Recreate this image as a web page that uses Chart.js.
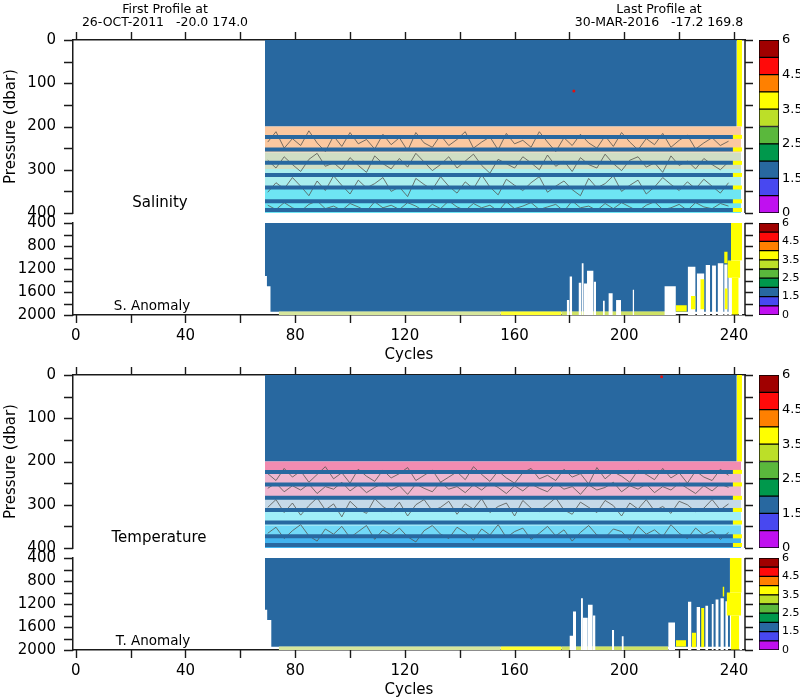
<!DOCTYPE html>
<html>
<head>
<meta charset="utf-8">
<script src="https://cdn.jsdelivr.net/npm/chart.js@4.4.1/dist/chart.umd.min.js"></script>
<style>
  body { margin: 0; background: #fff; width: 800px; height: 700px; position: relative; overflow: hidden; font-family: "DejaVu Sans", sans-serif; }
  canvas { position: absolute; }
  .txt { position: absolute; white-space: pre; color: #000; transform: translate(-50%, -50%); }
</style>
</head>
<body>
<canvas id="sal" width="756" height="230" style="left:0;top:0"></canvas>
<canvas id="salAnom" width="756" height="152" style="left:0;top:213px"></canvas>
<canvas id="temp" width="756" height="230" style="left:0;top:335px"></canvas>
<canvas id="tempAnom" width="756" height="152" style="left:0;top:548px"></canvas>
<canvas id="cb1" width="45" height="189" style="left:755px;top:32px"></canvas>
<canvas id="cb2" width="45" height="108" style="left:755px;top:215px"></canvas>
<canvas id="cb3" width="45" height="189" style="left:755px;top:367px"></canvas>
<canvas id="cb4" width="45" height="108" style="left:755px;top:550px"></canvas>

<div class="txt" style="left:165px;top:8px;font-size:12.5px">First Profile at</div>
<div class="txt" style="left:165px;top:21px;font-size:12.5px">26-OCT-2011   -20.0 174.0</div>
<div class="txt" style="left:659px;top:8px;font-size:12.5px">Last Profile at</div>
<div class="txt" style="left:659px;top:21px;font-size:12.5px">30-MAR-2016   -17.2 169.8</div>
<div class="txt" style="left:160px;top:202px;font-size:15px">Salinity</div>
<div class="txt" style="left:152px;top:305px;font-size:13.5px">S. Anomaly</div>
<div class="txt" style="left:159px;top:537px;font-size:15px">Temperature</div>
<div class="txt" style="left:153px;top:640px;font-size:13.5px">T. Anomaly</div>

<script>
Chart.defaults.font.family = '"DejaVu Sans", sans-serif';
Chart.defaults.color = '#000';

// axes
const xMin = -1, xMax = 244;
const cycleTickMarks = [0, 20, 40, 60, 80, 100, 120, 140, 160, 180, 200, 220, 240];
const cycleLabels = [0, 40, 80, 120, 160, 200, 240];
const upperTicks = [0, 50, 100, 150, 200, 250, 300, 350, 400];
const upperLabels = [0, 100, 200, 300, 400];
const lowerTicks = [400, 600, 800, 1000, 1200, 1400, 1600, 1800, 2000];
const lowerLabels = [400, 800, 1200, 1600, 2000];
const colorbarTickPos = [0, 2, 4, 6, 8, 10];
const colorbarLabels = ['0', '1.5', '2.5', '3.5', '4.5', '6'];

// profile coverage
const firstCycle = 69;
const blueEndCycle = 241;
const lastCycle = 242.9;
const bandEndCycle = 242.6;
const upperDepth = 200;
const sampleLevels = [224, 253, 284, 312, 341, 373, 393];

// salinity / temperature bands (dbar)
const salBandTops = [200, 260, 298, 340];
const salBandBottoms = [260, 298, 340, 400];
const tempBandTops = [200, 226, 282, 312, 348, 374];
const tempBandBottoms = [226, 282, 312, 348, 374, 400];

// contour lines
const contourCycles = [70, 73, 76, 79, 82, 85, 88, 91, 94, 97, 100, 103, 106, 109, 112, 115, 118, 121, 124, 127, 130, 133, 136, 139, 142, 145, 148, 151, 154, 157, 160, 163, 166, 169, 172, 175, 178, 181, 184, 187, 190, 193, 196, 199, 202, 205, 208, 211, 214, 217, 220, 223, 226, 229, 232, 235, 238];
const salContourA = [236, 212, 250, 228, 244, 210, 238, 258, 222, 246, 214, 240, 230, 252, 218, 242, 226, 256, 214, 238, 248, 220, 244, 230, 212, 250, 236, 224, 254, 216, 240, 232, 248, 212, 236, 258, 226, 244, 218, 238, 250, 222, 246, 214, 236, 254, 228, 242, 216, 248, 232, 220, 252, 238, 226, 244, 234];
const salContourB = [278, 296, 270, 288, 304, 276, 262, 292, 284, 300, 272, 290, 306, 268, 286, 298, 274, 294, 262, 282, 302, 288, 270, 296, 280, 264, 290, 308, 276, 286, 296, 270, 284, 300, 266, 292, 280, 304, 272, 288, 296, 264, 286, 302, 278, 270, 294, 284, 306, 268, 290, 280, 298, 274, 288, 300, 282];
const salContourC = [352, 330, 344, 318, 338, 360, 326, 348, 314, 336, 356, 324, 342, 332, 318, 350, 340, 362, 320, 334, 346, 316, 338, 354, 328, 344, 312, 340, 358, 322, 336, 348, 330, 316, 352, 338, 326, 346, 360, 320, 342, 332, 314, 350, 336, 324, 356, 340, 318, 334, 348, 328, 344, 322, 338, 354, 330];
const salContourD = [382, 392, 376, 388, 396, 380, 372, 390, 384, 394, 378, 386, 396, 374, 388, 382, 392, 376, 384, 396, 380, 390, 372, 386, 394, 378, 388, 382, 396, 374, 390, 384, 376, 392, 386, 380, 396, 372, 388, 384, 394, 378, 390, 376, 386, 396, 382, 374, 392, 388, 380, 394, 376, 386, 390, 378, 384];
const tempContourA = [228, 244, 216, 236, 222, 248, 230, 212, 240, 226, 250, 218, 234, 246, 220, 238, 228, 214, 244, 232, 220, 248, 236, 224, 242, 212, 230, 246, 222, 238, 250, 226, 216, 240, 232, 244, 218, 236, 228, 252, 214, 240, 224, 234, 248, 220, 230, 242, 216, 238, 226, 250, 222, 236, 244, 218, 232];
const tempContourB = [306, 288, 318, 296, 324, 302, 284, 312, 298, 328, 292, 310, 320, 286, 304, 316, 294, 326, 300, 288, 314, 306, 292, 322, 298, 310, 286, 318, 304, 296, 326, 290, 308, 316, 300, 284, 312, 322, 294, 306, 318, 290, 302, 326, 296, 310, 288, 314, 304, 320, 292, 300, 316, 308, 288, 312, 298];
const tempContourC = [366, 352, 378, 360, 346, 372, 384, 356, 368, 350, 376, 362, 348, 380, 358, 370, 354, 374, 386, 360, 348, 368, 378, 352, 364, 382, 356, 370, 346, 376, 362, 354, 380, 366, 350, 372, 358, 384, 364, 348, 370, 376, 356, 362, 382, 350, 368, 358, 374, 346, 366, 378, 354, 370, 360, 380, 364];
const tempContourD = [262, 250, 270, 256, 266, 252, 274, 258, 264, 248, 268, 254, 272, 260, 250, 266, 256, 276, 252, 262, 270, 248, 264, 258, 272, 254, 266, 250, 260, 274, 256, 268, 252, 262, 270, 250, 264, 258, 276, 254, 266, 260, 248, 270, 256, 264, 252, 272, 258, 266, 250, 262, 274, 256, 268, 252, 260];

// isolated flagged points
const salRedCycle = [181.6], salRedPres = [118];
const tempRedCycle = [213.6], tempRedPres = [4];

// anomaly panels: lower edge of the blue region
const sEdgeCycles = [69, 69.7, 71, 74, 239];
const sEdgeDepths = [1000, 1320, 1500, 1945, 1945];
const tEdgeCycles = [69, 69.8, 71.3, 73.8, 238.5];
const tEdgeDepths = [1000, 1300, 1480, 1945, 1945];

// thin strip at the deepest level
const stripStart = [74, 155, 177];
const stripEnd = [155, 177, 216];
const stripTop = 1940;

// S. anomaly: missing (white) columns and yellow cells
const sGapStart = [179, 180, 183.3, 184.4, 185.2, 186.4, 188.8, 192.2, 194.2, 197, 203, 214.6, 223.1, 226.4, 229.6, 232, 234, 236.4, 237.9, 241.7];
const sGapEnd   = [180, 181, 184.4, 185.2, 186.4, 188.8, 189.7, 192.9, 195.8, 198.8, 203.6, 218.8, 226, 229.2, 231.3, 233.4, 236.2, 237.7, 239.2, 243];
const sGapTop   = [1740, 1330, 1440, 1100, 1450, 1230, 1420, 1750, 1620, 1740, 1560, 1500, 1160, 1280, 1130, 1140, 1100, 1120, 1300, 1350];
const sYelStart  = [238.9, 237.6, 239.2, 236.4, 224.3, 227.7, 236.6, 218.8];
const sYelEnd    = [242.9, 242.3, 241.7, 237.7, 226.0, 229.2, 237.7, 222.8];
const sYelTop    = [400, 1050, 1350, 900, 1670, 1380, 1540, 1830];
const sYelBottom = [1050, 1350, 1990, 1100, 1900, 1900, 1900, 1940];

// T. anomaly: missing (white) columns and yellow cells
const tGapStart = [180, 181.3, 184.2, 184.9, 186.7, 188.5, 195.5, 199, 216, 223.2, 226.3, 229.5, 231.8, 233.2, 235, 236.8, 241.9];
const tGapEnd   = [181.3, 182.4, 184.9, 186.7, 188.5, 189.5, 196.3, 199.8, 218.5, 224.5, 227.6, 230.6, 232.6, 234.4, 236.3, 237.8, 243];
const tGapTop   = [1750, 1330, 1100, 1440, 1215, 1400, 1650, 1760, 1520, 1160, 1250, 1230, 1200, 1120, 1100, 1150, 1450];
const tYelStart  = [238.5, 237.3, 235.8, 238.9, 228, 218.8, 224.6];
const tYelEnd    = [242.8, 242.6, 236.5, 241.9, 229.2, 222.5, 226.2];
const tYelTop    = [400, 1000, 900, 1400, 1270, 1830, 1700];
const tYelBottom = [1000, 1400, 1070, 1990, 1950, 1940, 1950];

// styles
const BLUE = '#2868a0', YELLOW = '#ffff00', WHITE = '#ffffff', RED = '#e01010';
const AXIS = '#1a1a1a', CONTOUR = 'rgba(85,85,80,0.8)', HIDDEN = 'rgba(0,0,0,0)';
const salBandColors = ['#fbc8a0', '#d0dec4', '#aaeeee', '#6ee5f3'];
const tempBandColors = ['#f28cb1', '#efb7d0', '#c5d9e8', '#a0eef8', '#72d9f7', '#42b4ef'];
const stripColors = ['#d6e69c', '#ffff30', '#cfe264'];
const colorbarColors = ['#c010f0', '#4848f0', '#2868a0', '#00984c', '#5ab83c', '#bcdf28', '#ffff00', '#ff8000', '#ff0a0a', '#a00000'];

// tick marks on all four sides + right frame line, placed with the chart's own scales
const axisTicks = {
    id: 'axisTicks',
    afterDraw(chart, args, opts) {
        const ctx = chart.ctx, a = chart.chartArea;
        const xs = chart.scales.x, ys = chart.scales.y;
        const al = v => Math.round(v) + 0.5;
        ctx.save();
        ctx.strokeStyle = AXIS;
        ctx.lineWidth = 1.4;
        ctx.beginPath();
        opts.yTicks.forEach(v => {
            const py = al(ys.getPixelForValue(v));
            ctx.moveTo(a.left, py); ctx.lineTo(a.left - 9, py);
            ctx.moveTo(a.right, py); ctx.lineTo(a.right + 8, py);
        });
        cycleTickMarks.forEach(v => {
            const px = al(xs.getPixelForValue(v));
            if (opts.side === 'top') { ctx.moveTo(px, a.top); ctx.lineTo(px, a.top - 8); }
            else { ctx.moveTo(px, a.bottom); ctx.lineTo(px, a.bottom + 8); }
        });
        ctx.stroke();
        ctx.lineWidth = 1.5;
        ctx.beginPath();
        ctx.moveTo(a.right, a.top); ctx.lineTo(a.right, a.bottom);
        ctx.stroke();
        ctx.restore();
    }
};

// keep the plot box exactly where the layout puts it
function noEdgePadding(s) {
    s.paddingTop = 0; s.paddingBottom = 0; s.paddingLeft = 0; s.paddingRight = 0;
}

function rect(x0, x1, p0, p1, color) {
    return {
        data: [{x: x0, y: p0}, {x: x1, y: p0}],
        fill: {value: p1},
        backgroundColor: color,
        borderColor: HIDDEN,
        borderWidth: 0,
        pointRadius: 0
    };
}

function hline(x0, x1, p, color, width) {
    return {
        data: [{x: x0, y: p}, {x: x1, y: p}],
        fill: false,
        borderColor: color,
        borderWidth: width,
        borderCapStyle: 'butt',
        pointRadius: 0
    };
}

function cycleAxis(position, showLabels) {
    return {
        type: 'linear', position: position, min: xMin, max: xMax,
        afterBuildTicks: s => { s.ticks = cycleTickMarks.map(v => ({value: v})); },
        afterFit: s => { s.height = position === 'top' ? 40 : 50; noEdgePadding(s); },
        ticks: {
            display: showLabels, autoSkip: false, maxRotation: 0, padding: 12, font: {size: 15},
            callback: v => cycleLabels.includes(v) ? String(v) : ''
        },
        grid: {display: false, drawTicks: false},
        border: {display: true, color: AXIS, width: 1.5},
        title: {display: showLabels, text: 'Cycles', font: {size: 15}, padding: {top: 2, bottom: 1}}
    };
}

function pressureAxis(tickList, labelList, title) {
    return {
        type: 'linear', position: 'left', reverse: true,
        min: tickList[0], max: tickList[tickList.length - 1],
        afterBuildTicks: s => { s.ticks = tickList.map(v => ({value: v})); },
        afterFit: s => { s.width = 73; noEdgePadding(s); },
        ticks: {
            autoSkip: false, padding: 17, font: {size: 15},
            callback: v => labelList.includes(v) ? String(v) : ''
        },
        grid: {display: false, drawTicks: false},
        border: {display: true, color: AXIS, width: 1.5},
        title: {display: !!title, text: title || '', font: {size: 15}, padding: {top: 2, bottom: 0}}
    };
}

function baseOptions(padding, scales, tickOpts) {
    return {
        responsive: false, animation: false, events: [],
        layout: {padding: padding},
        plugins: {legend: {display: false}, tooltip: {enabled: false}, axisTicks: tickOpts},
        scales: scales
    };
}

function upperPanel(id, bandTops, bandBottoms, bandColors, contours, redCycle, redPres) {
    const ds = [];
    ds.push(rect(firstCycle, blueEndCycle, 0, upperDepth, BLUE));
    ds.push(rect(blueEndCycle, lastCycle, 0, upperDepth, YELLOW));
    bandTops.forEach((t, i) => ds.push(rect(firstCycle, bandEndCycle, t, bandBottoms[i], bandColors[i])));
    contours.forEach(c => ds.push({
        data: contourCycles.map((x, i) => ({x: x, y: c[i]})),
        borderColor: CONTOUR, borderWidth: 1, pointRadius: 0, fill: false
    }));
    sampleLevels.forEach(p => ds.push(hline(firstCycle, 239.6, p, BLUE, 4)));
    sampleLevels.forEach(p => ds.push(hline(239.6, lastCycle, p, YELLOW, 4)));
    ds.push({
        data: redCycle.map((x, i) => ({x: x, y: redPres[i]})),
        showLine: false, pointRadius: 1.5, pointBorderWidth: 0, pointBackgroundColor: RED
    });
    ds.reverse(); // first dataset is drawn on top

    new Chart(document.getElementById(id), {
        type: 'line',
        data: {datasets: ds},
        options: baseOptions({top: 0, bottom: 17, left: 0, right: 11}, {
            x: cycleAxis('top', false),
            y: pressureAxis(upperTicks, upperLabels, 'Pressure (dbar)')
        }, {side: 'top', yTicks: upperTicks}),
        plugins: [axisTicks]
    });
}

function anomalyPanel(id, edgeCycles, edgeDepths, gapStart, gapEnd, gapTop, yelStart, yelEnd, yelTop, yelBottom) {
    const ds = [];
    ds.push({
        data: edgeCycles.map((x, i) => ({x: x, y: edgeDepths[i]})),
        stepped: 'after', fill: {value: 400}, backgroundColor: BLUE,
        borderColor: HIDDEN, borderWidth: 0, pointRadius: 0
    });
    stripStart.forEach((s, i) => ds.push(rect(s, stripEnd[i], stripTop, 2000, stripColors[i])));
    gapStart.forEach((s, i) => ds.push(rect(s, gapEnd[i], gapTop[i], 2000, WHITE)));
    yelStart.forEach((s, i) => ds.push(rect(s, yelEnd[i], yelTop[i], yelBottom[i], YELLOW)));
    ds.reverse();

    new Chart(document.getElementById(id), {
        type: 'line',
        data: {datasets: ds},
        options: baseOptions({top: 10, bottom: 0, left: 0, right: 11}, {
            x: cycleAxis('bottom', true),
            y: pressureAxis(lowerTicks, lowerLabels, null)
        }, {side: 'bottom', yTicks: lowerTicks}),
        plugins: [axisTicks]
    });
}

function colorbar(id, fontSize) {
    new Chart(document.getElementById(id), {
        type: 'bar',
        data: {
            labels: [''],
            datasets: colorbarColors.map(c => ({
                data: [1], backgroundColor: c, borderColor: '#000', borderWidth: 1,
                borderSkipped: false, barPercentage: 1, categoryPercentage: 1
            }))
        },
        options: {
            responsive: false, animation: false, events: [],
            layout: {padding: {left: 4, top: 8, bottom: 8, right: 0}},
            plugins: {legend: {display: false}, tooltip: {enabled: false}},
            scales: {
                x: {stacked: true, display: false},
                y: {
                    stacked: true, position: 'right', min: 0, max: 10,
                    afterBuildTicks: s => { s.ticks = colorbarTickPos.map(v => ({value: v})); },
                    afterFit: s => { s.width = 21; noEdgePadding(s); },
                    ticks: {padding: 3, font: {size: fontSize}, callback: (v, i) => colorbarLabels[i]},
                    grid: {display: false, drawTicks: false},
                    border: {display: false}
                }
            }
        }
    });
}

upperPanel('sal', salBandTops, salBandBottoms, salBandColors, [salContourA, salContourB, salContourC, salContourD], salRedCycle, salRedPres);
anomalyPanel('salAnom', sEdgeCycles, sEdgeDepths, sGapStart, sGapEnd, sGapTop, sYelStart, sYelEnd, sYelTop, sYelBottom);
upperPanel('temp', tempBandTops, tempBandBottoms, tempBandColors, [tempContourA, tempContourD, tempContourB, tempContourC], tempRedCycle, tempRedPres);
anomalyPanel('tempAnom', tEdgeCycles, tEdgeDepths, tGapStart, tGapEnd, tGapTop, tYelStart, tYelEnd, tYelTop, tYelBottom);
colorbar('cb1', 13);
colorbar('cb2', 11);
colorbar('cb3', 13);
colorbar('cb4', 11);
</script>
</body>
</html>
